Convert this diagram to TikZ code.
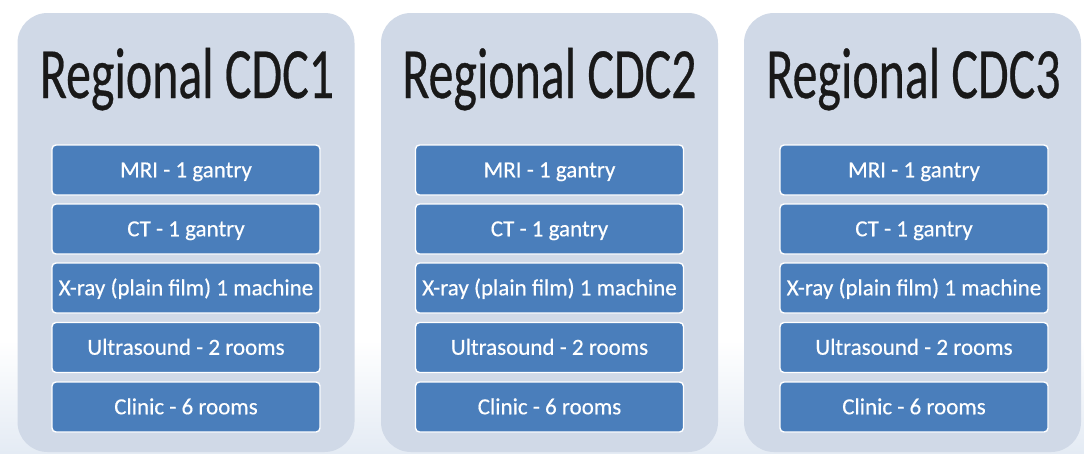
\documentclass[tikz,border=0pt]{standalone}
\usepackage{fontspec}
\usepackage{graphicx}
\setmainfont{Carlito}
\newfontfamily\titlefont[FakeBold=0.5]{Carlito}
\newfontfamily\itemfont[FakeBold=0.4]{Carlito}
\definecolor{panelfill}{HTML}{D0D9E7}
\definecolor{boxfill}{HTML}{4A7EBB}
\definecolor{bgblue}{HTML}{E4EBF4}
\tikzset{
  panel/.style={fill=panelfill, draw=none, rounded corners=30pt, minimum width=337pt, minimum height=439pt, inner sep=0pt},
  paneltitle/.style={anchor=base, inner sep=0pt, text=black!90, font=\titlefont\fontsize{58}{66}\selectfont},
  itembox/.style={fill=boxfill, draw=white, line width=1.4pt, rounded corners=4pt, minimum width=268pt, minimum height=50pt, inner sep=0pt, text=white, font=\itemfont\fontsize{23}{27}\selectfont, text height=14.5pt, text depth=0pt}
}
\newcommand{\ttl}[1]{\scalebox{0.86}[1.244]{#1}}
\begin{document}
\begin{tikzpicture}[x=1pt,y=-1pt]
  \useasboundingbox (0,0) rectangle (1084,453);
  \fill[white] (0,0) rectangle (1084,453);
  \shade[top color=white, bottom color=bgblue] (0,340) rectangle (1084,453);
  % panels
  \node[panel] (p1) at (186,232.5) {};
  \node[panel] (p2) at (549.5,232.5) {};
  \node[panel] (p3) at (912.5,232.5) {};
  % titles
  \node[paneltitle] (t1) at (187,98) {\ttl{Regional CDC1}};
  \node[paneltitle] (t2) at (549.5,98) {\ttl{Regional CDC2}};
  \node[paneltitle] (t3) at (913.5,98) {\ttl{Regional CDC3}};
  % boxes
  \foreach \cx/\n in {186/1, 549.5/2, 914/3}{
    \node[itembox] (mri\n) at (\cx,170) {MRI - 1 gantry};
    \node[itembox] (ct\n) at (\cx,229) {CT - 1 gantry};
    \node[itembox] (xr\n) at (\cx,288) {X-ray (plain film) 1 machine};
    \node[itembox] (us\n) at (\cx,347.5) {Ultrasound - 2 rooms};
    \node[itembox] (cl\n) at (\cx,407) {Clinic - 6 rooms};
  }
\end{tikzpicture}
\end{document}
